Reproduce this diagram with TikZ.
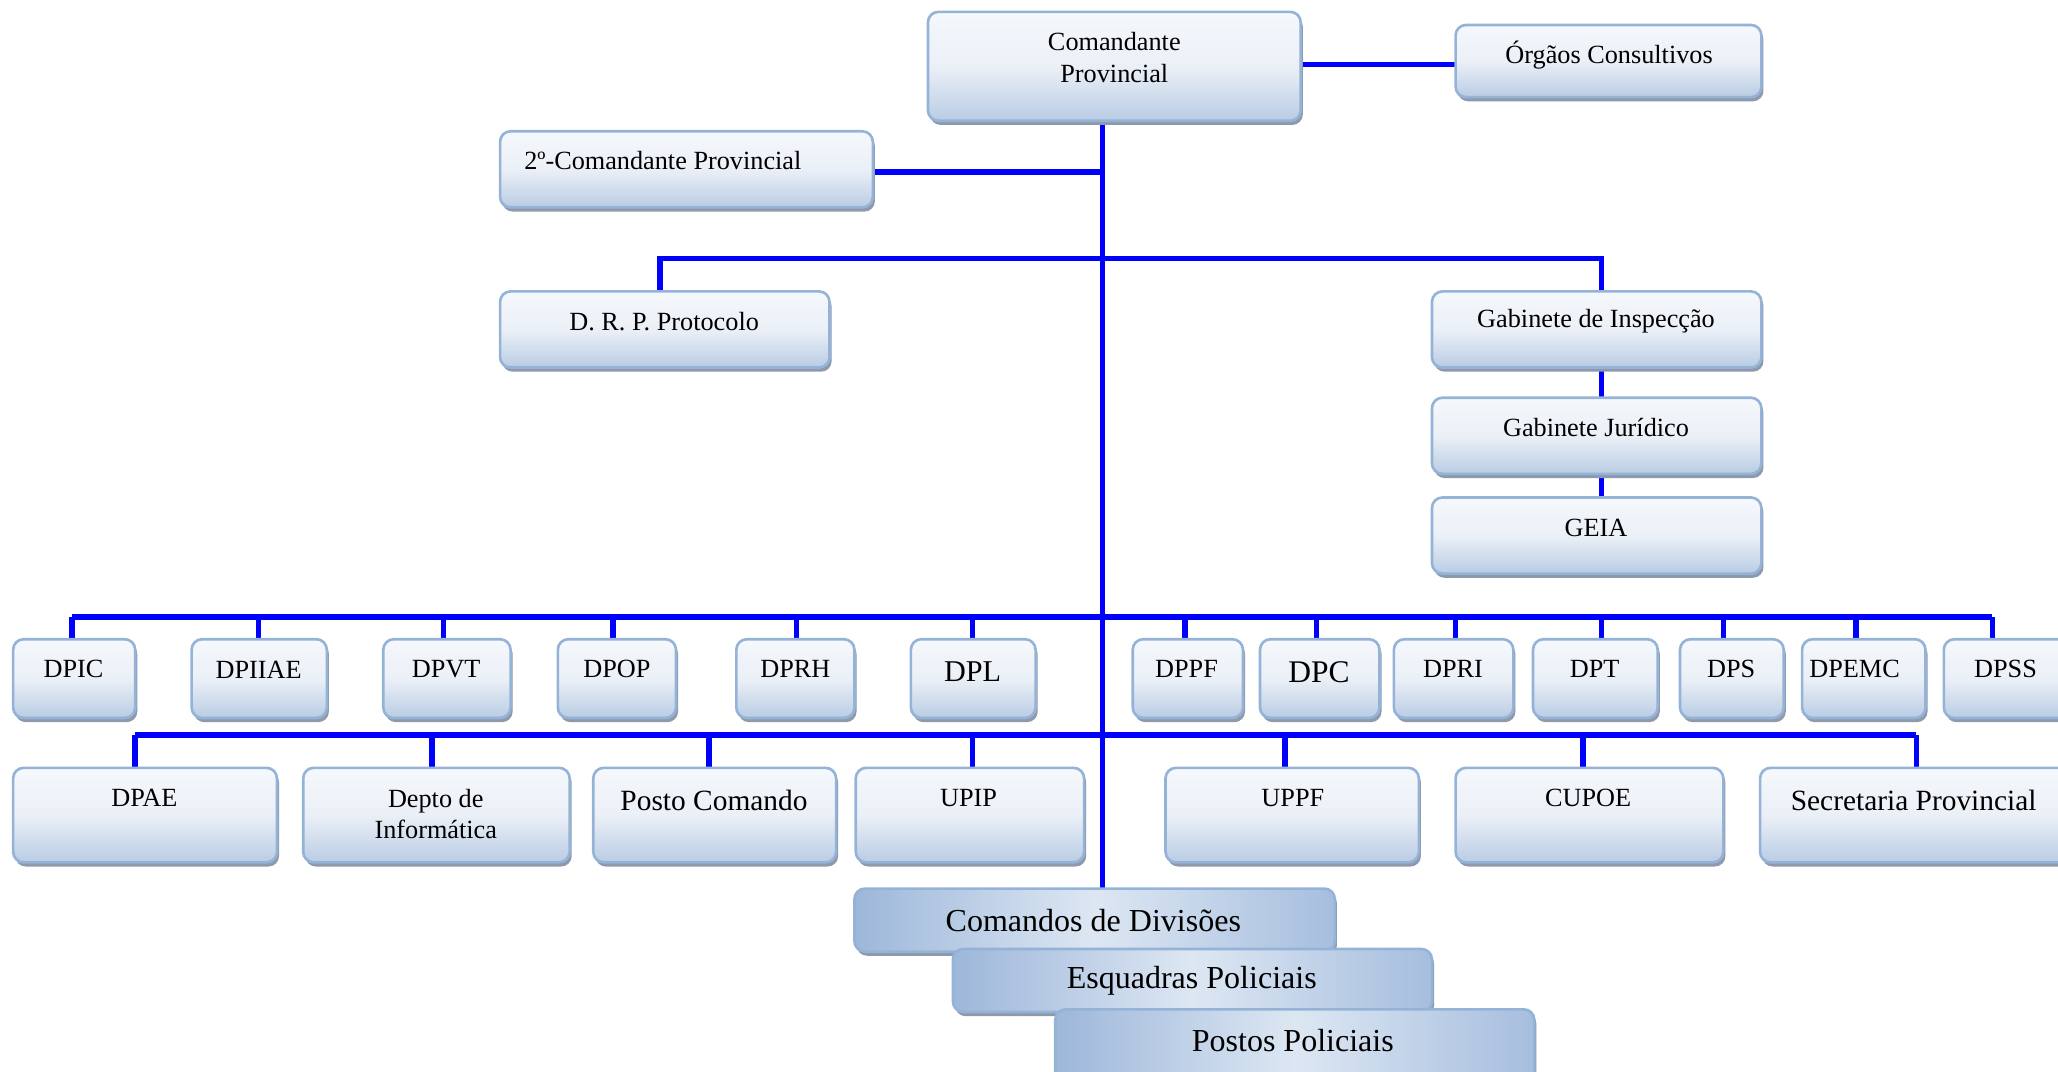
\documentclass[tikz,border=0pt]{standalone}
\usepackage{fontspec}
\setmainfont{Liberation Serif}
\usetikzlibrary{shadows}
\definecolor{boxtop}{HTML}{F5F8FC}
\definecolor{boxmid}{HTML}{EBF0F7}
\definecolor{boxbot}{HTML}{B9CCE4}
\definecolor{boxline}{HTML}{95B3D7}
\definecolor{shadowc}{HTML}{8E9AAB}
\definecolor{bleft}{HTML}{9DB7DA}
\definecolor{bmid}{HTML}{DDE7F3}
\definecolor{bright}{HTML}{A6BEDE}
\definecolor{conn}{HTML}{0000FF}
\newcommand{\orgbox}[8]{%
  \node[obox, minimum width={(#4-#2)*0.5pt}, minimum height={(#5-#3)*0.5pt}] (#1) at ({(#2+#4)/2},{(#3+#5)/2}) {};
  \node[otext] (#1-t) at (#6,#7) {#8};
}
\newcommand{\orgboxb}[8]{%
  \node[oboxb, minimum width={(#4-#2)*0.5pt}, minimum height={(#5-#3)*0.5pt}] (#1) at ({(#2+#4)/2},{(#3+#5)/2}) {};
  \node[otext] (#1-t) at (#6,#7) {#8};
}
\begin{document}
\begin{tikzpicture}[x=0.5pt,y=-0.5pt,
  obox/.style={draw=boxline, line width=1pt, rounded corners=4pt, inner sep=0pt, outer sep=0pt,
    top color=boxtop, bottom color=boxbot, middle color=boxmid,
    drop shadow={shadow xshift=0.8pt, shadow yshift=-1.6pt, fill=shadowc, opacity=1}},
  oboxb/.style={draw=boxline, line width=1pt, rounded corners=4pt, inner sep=0pt, outer sep=0pt,
    left color=bleft, right color=bright, middle color=bmid, shading angle=90,
    drop shadow={shadow xshift=0.8pt, shadow yshift=-1.6pt, fill=shadowc, opacity=1}},
  otext/.style={inner sep=0pt, align=center, font=\fontsize{10}{12}\selectfont},
  link/.style={draw=conn, line width=2.1pt}]
\useasboundingbox (0,0) rectangle (1568,816);
\clip (0,0) rectangle (1568,816);

% junction coordinates
\coordinate (j2) at (840,131);
\coordinate (bA) at (503,197);
\coordinate (bB) at (1220,197);
\coordinate (b1L) at (55,470);
\coordinate (b1R) at (1518,470);
\coordinate (b2L) at (103,560);
\coordinate (b2R) at (1460,560);

% connectors (behind boxes)
\draw[link] (840,92) -- (840,680);
\draw[link] (991,49) -- (1109,49);
\draw[link] (665,131) -- (j2);
\draw[link] (503,222) -- (bA) -- (bB) -- (1220,222);
\draw[link] (1220,280) -- (1220,303);
\draw[link] (1220,361) -- (1220,379);
\draw[link] (b1L) -- (b1R);
\foreach \x in {55,197,338,467,607,741,903,1003,1109,1220,1313,1414,1518}
  \draw[link] (\x,470) -- (\x,488);
\draw[link] (b2L) -- (b2R);
\foreach \x in {103,329,540,741,979,1206,1460}
  \draw[link] (\x,560) -- (\x,586);

% top part
\orgbox{cp}{707}{9}{991}{92}{849}{44}{Comandante\\Provincial}
\orgbox{oc}{1109}{19}{1342}{74}{1226}{42}{Órgãos Consultivos}
\orgbox{sc}{381}{100}{665}{158}{505}{122}{2º-Comandante Provincial}
\orgbox{drp}{381}{222}{632}{280}{506}{245}{D. R. P. Protocolo}
\orgbox{gi}{1091}{222}{1342}{280}{1216}{245}{Gabinete de Inspecção}
\orgbox{gj}{1091}{303}{1342}{361}{1216}{326}{Gabinete Jurídico}
\orgbox{geia}{1091}{379}{1342}{437}{1216}{402}{GEIA}

% row 1
\orgbox{dpic}{10}{487}{103}{547}{56}{510}{DPIC}
\orgbox{dpiiae}{146}{487}{249}{547}{197}{510}{DPIIAE}
\orgbox{dpvt}{292}{487}{389}{547}{340}{510}{DPVT}
\orgbox{dpop}{425}{487}{515}{547}{470}{510}{DPOP}
\orgbox{dprh}{561}{487}{651}{547}{606}{510}{DPRH}
\orgbox{dpl}{694}{487}{789}{547}{741}{512}{\fontsize{11.5}{14}\selectfont DPL}
\orgbox{dppf}{863}{487}{947}{547}{904}{510}{DPPF}
\orgbox{dpc}{960}{487}{1051}{547}{1005}{512}{\fontsize{12}{14}\selectfont DPC}
\orgbox{dpri}{1062}{487}{1153}{547}{1107}{510}{DPRI}
\orgbox{dpt}{1168}{487}{1263}{547}{1215}{510}{DPT}
\orgbox{dps}{1280}{487}{1359}{547}{1319}{510}{DPS}
\orgbox{dpemc}{1373}{487}{1467}{547}{1413}{510}{DPEMC}
\orgbox{dpss}{1481}{487}{1580}{547}{1528}{510}{DPSS}

% row 2
\orgbox{dpae}{10}{585}{211}{657}{110}{608}{DPAE}
\orgbox{depto}{231}{585}{434}{657}{332}{620}{Depto de\\Informática}
\orgbox{posto}{452}{585}{637}{657}{544}{610}{\fontsize{11.2}{14}\selectfont Posto Comando}
\orgbox{upip}{652}{585}{826}{657}{738}{608}{UPIP}
\orgbox{uppf}{888}{585}{1081}{657}{985}{608}{UPPF}
\orgbox{cupoe}{1109}{585}{1313}{657}{1210}{608}{CUPOE}
\orgbox{secr}{1341}{585}{1580}{657}{1458}{610}{\fontsize{11.2}{14}\selectfont Secretaria Provincial}

% bottom stack
\orgboxb{cdiv}{651}{677}{1017}{725}{833}{701}{\fontsize{12.2}{15}\selectfont Comandos de Divisões}
\orgboxb{esq}{726}{723}{1091}{771}{908}{747}{\fontsize{12.2}{15}\selectfont Esquadras Policiais}
\orgboxb{postos}{804}{769}{1169}{824}{985}{793}{\fontsize{12.2}{15}\selectfont Postos Policiais}
\end{tikzpicture}
\end{document}
